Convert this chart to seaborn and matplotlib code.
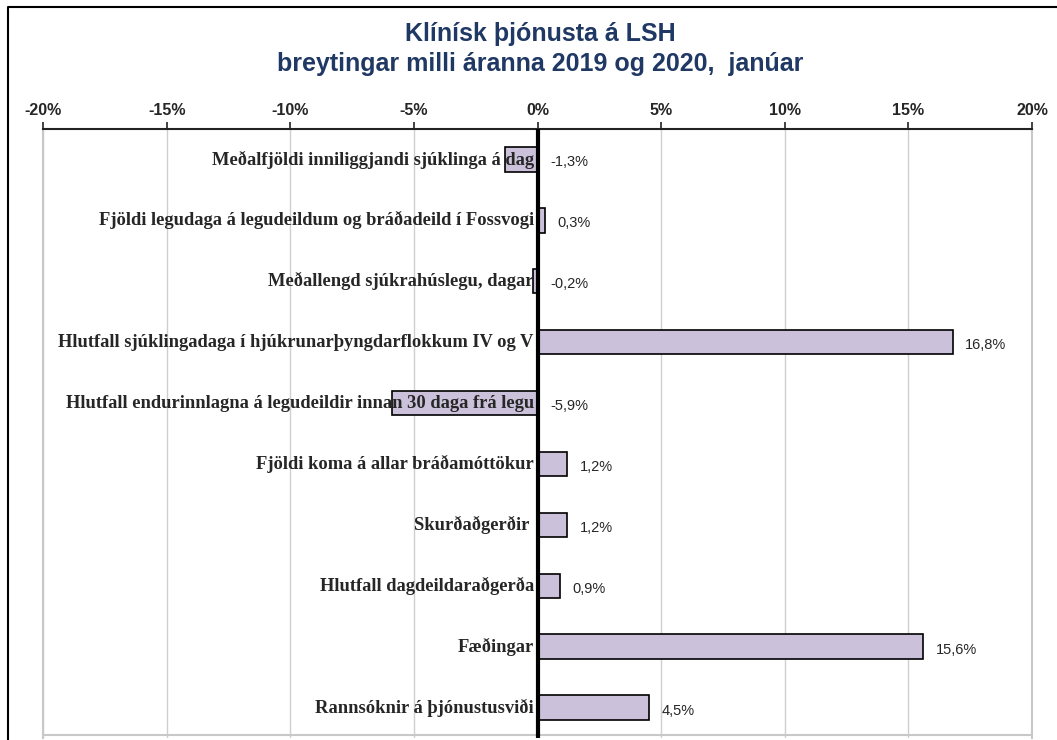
import matplotlib.pyplot as plt
import seaborn as sns
import pandas as pd
from matplotlib.lines import Line2D

categories = [
    "Meðalfjöldi inniliggjandi sjúklinga á dag",
    "Fjöldi legudaga á legudeildum og bráðadeild í Fossvogi",
    "Meðallengd sjúkrahúslegu, dagar",
    "Hlutfall sjúklingadaga í hjúkrunarþyngdarflokkum IV og V",
    "Hlutfall endurinnlagna á legudeildir innan 30 daga frá legu",
    "Fjöldi koma á allar bráðamóttökur",
    "Skurðaðgerðir ",
    "Hlutfall dagdeildaraðgerða",
    "Fæðingar",
    "Rannsóknir á þjónustusviði",
]
values = [-1.3, 0.3, -0.2, 16.8, -5.9, 1.2, 1.2, 0.9, 15.6, 4.5]
xticks = [-20, -15, -10, -5, 0, 5, 10, 15, 20]

df = pd.DataFrame({"flokkur": categories, "breyting": values})

sns.set_style("white")
plt.rcParams["font.family"] = ["Liberation Sans", "DejaVu Sans"]

fig = plt.figure(figsize=(10.57, 7.4), dpi=100)
ax = fig.add_axes([0.0407, 0.0027, 0.9357, 0.823])

sns.barplot(data=df, x="breyting", y="flokkur", orient="h", color="#CCC1DA",
            saturation=1, edgecolor="black", linewidth=1.2, width=0.4, ax=ax, zorder=2)

ax.set_xlim(-20, 20)
ax.set_ylim(len(categories) - 0.5, -0.5)
ax.set_xticks(xticks)
ax.set_xticklabels([f"{t}%" for t in xticks], fontsize=11.5, fontweight="bold")
ax.xaxis.tick_top()
ax.tick_params(axis="x", direction="out", length=5, width=1.2, pad=3, color="#222222")
ax.set_yticks([])
ax.set_xlabel("")
ax.set_ylabel("")
ax.grid(axis="x", color="#CFCFCF", linewidth=1, zorder=0)
ax.set_axisbelow(True)

for side in ["left", "right"]:
    ax.spines[side].set_color("#C8C8C8")
    ax.spines[side].set_linewidth(1.5)
ax.spines["bottom"].set_visible(False)
ax.axhline(len(categories) - 0.55, color="#C8C8C8", linewidth=1.5, zorder=1)
ax.spines["top"].set_color("#222222")
ax.spines["top"].set_linewidth(1.5)

ax.axvline(0, color="black", linewidth=3, zorder=3)

# category labels sit just left of zero, on top of the bars
for i, (cat, v) in enumerate(zip(categories, values)):
    ax.text(-0.15, i, cat, ha="right", va="center", fontsize=13.3, fontweight="bold",
            family="Liberation Serif", zorder=4)
    lbl = f"{v:.1f}%".replace(".", ",")
    ax.text(max(v, 0) + 0.5, i + 0.05, lbl, ha="left", va="center", fontsize=10.5, zorder=4)

fig.text(0.511, 0.954, "Klínísk þjónusta á LSH", ha="center", va="center",
         fontsize=18, fontweight="bold", color="#1F3864")
fig.text(0.511, 0.914, "breytingar milli áranna 2019 og 2020,  janúar", ha="center",
         va="center", fontsize=18, fontweight="bold", color="#1F3864")

fig.add_artist(Line2D([0.0076, 0.0076, 1.0], [0.0, 0.9905, 0.9905],
                      transform=fig.transFigure, color="black", linewidth=1.5))

fig.savefig("out.png", dpi=100)
